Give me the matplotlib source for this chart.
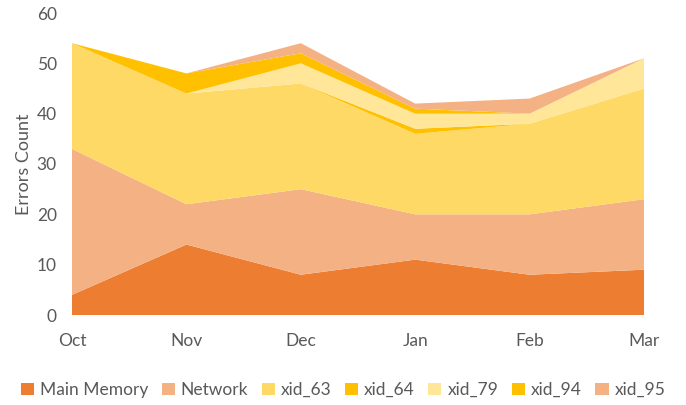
""" Stacked area chart: errors count per month """

import matplotlib
matplotlib.use('Agg')
import matplotlib.pyplot as plt
from matplotlib.patches import Patch


#!Datos
meses = ['Oct', 'Nov', 'Dec', 'Jan', 'Feb', 'Mar']
series = ['Main Memory', 'Network', 'xid_63', 'xid_64', 'xid_79', 'xid_94', 'xid_95']
main_memory = [4, 14, 8, 11, 8, 9]
network = [29, 8, 17, 9, 12, 14]
xid_63 = [21, 22, 21, 16, 18, 22]
xid_64 = [0, 0, 0, 1, 0, 0]
xid_79 = [0, 0, 4, 3, 2, 6]
xid_94 = [0, 4, 2, 1, 0, 0]
xid_95 = [0, 0, 2, 1, 3, 0]

colores = ['#ED7D31', '#F4B183', '#FFD966', '#FFC000', '#FFE699', '#FFC000', '#F4B183']
gris = '#595959'

plt.rcParams['font.family'] = ['Lato', 'DejaVu Sans']


#!Figura
fig = plt.figure(figsize=(6.86, 4.05), dpi=100)
ax = fig.add_axes([72 / 686, 1 - 315 / 405, (644 - 72) / 686, (315 - 13) / 405])

x = range(len(meses))
ax.stackplot(x, main_memory, network, xid_63, xid_64, xid_79, xid_94, xid_95,
             colors=colores, labels=series, linewidth=0)

ax.set_xlim(0, len(meses) - 1)
ax.set_ylim(0, 60)
ax.set_yticks(range(0, 61, 10))
ax.set_xticks(list(x))
ax.set_xticklabels(meses)

for s in ax.spines.values():
    s.set_visible(False)
ax.tick_params(length=0, labelsize=12.5, labelcolor=gris)
ax.tick_params(axis='x', pad=13)
ax.tick_params(axis='y', pad=11)
ax.set_ylabel('Errors Count', fontsize=13, color=gris, labelpad=3)

handles = [Patch(facecolor=c, label=l) for c, l in zip(colores, series)]
fig.legend(handles=handles, loc='center', bbox_to_anchor=(0.5, 1 - 390 / 405),
           ncol=7, frameon=False, fontsize=12.5, labelcolor=gris,
           handlelength=0.75, handleheight=0.75, handletextpad=0.35, columnspacing=0.78)

fig.savefig('out.png', dpi=100)
